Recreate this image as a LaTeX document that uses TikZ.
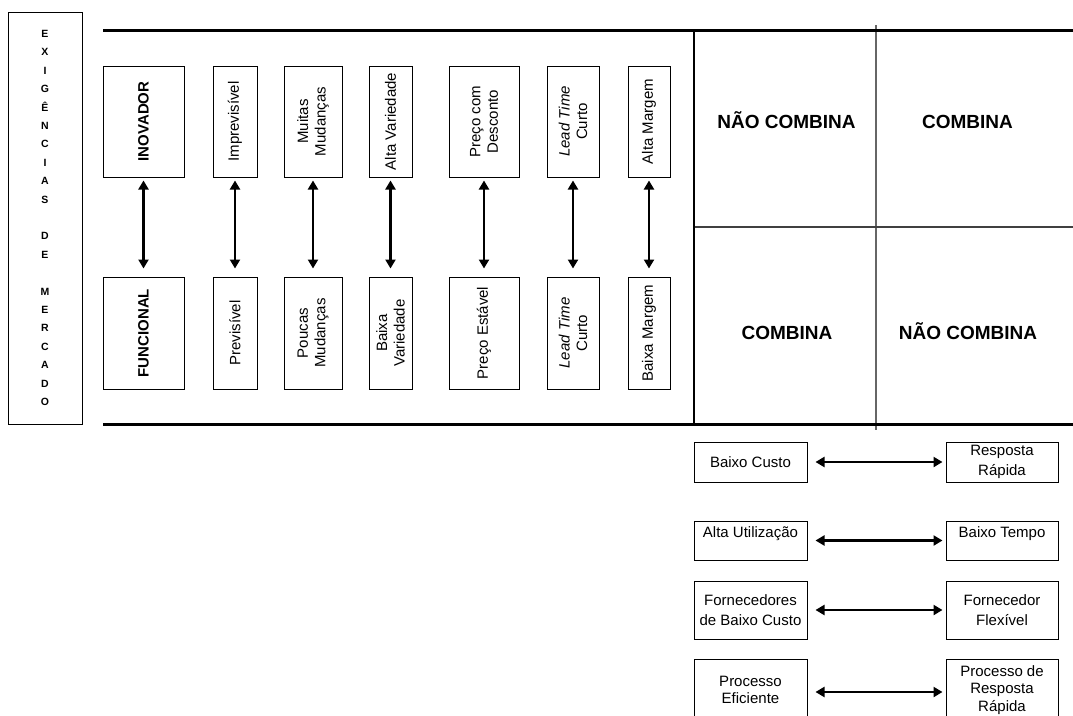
\documentclass[tikz,border=0pt]{standalone}
\usepackage{fontspec}
\setmainfont{Liberation Sans}
\usetikzlibrary{arrows.meta}
\begin{document}
\begin{tikzpicture}[x=1pt,y=-1pt,
  box/.style={draw, line width=1pt, inner sep=0pt, align=center,
    font=\fontsize{15}{17.5}\selectfont},
  vbox/.style={box, rotate=90},
  bold/.style={font=\fontsize{15}{17.5}\selectfont\bfseries},
  twoway/.style={{Triangle[length=9pt,width=10pt]}-{Triangle[length=9pt,width=10pt]},
    line width=2.5pt},
  quad/.style={font=\fontsize{19}{22}\selectfont\bfseries, inner sep=0pt,
    text height=13.6pt, text depth=0pt},
  tableline/.style={line width=3pt},
  gridline/.style={line width=1.4pt, draw=black!60},
]
\useasboundingbox (0,0) rectangle (1073,715);
\clip (0,0) rectangle (1073,715);

% side caption
\node[draw, line width=1pt, minimum width=74pt, minimum height=412pt, inner sep=0pt,
  align=center, font=\fontsize{10.5}{18.4}\selectfont\bfseries] (exig) at (45,218)
  {E\\X\\I\\G\\Ê\\N\\C\\I\\A\\S\\\mbox{}\\D\\E\\\mbox{}\\M\\E\\R\\C\\A\\D\\O};

% table frame
\coordinate (tl) at (103,30);
\coordinate (tr) at (1073,30);
\coordinate (bl) at (103,424);
\coordinate (br) at (1073,424);
\coordinate (mt) at (694,30);
\coordinate (mb) at (694,424);
\coordinate (ct) at (876,25);
\coordinate (cb) at (876,430);
\coordinate (ml) at (694,227);
\coordinate (mr) at (1073,227);
\draw[gridline] (ct) -- (cb);
\draw[gridline, draw=black!75] (ml) -- (mr);
\draw[tableline] (tl) -- (tr);
\draw[tableline] (bl) -- (br);
\draw[line width=2.5pt] (mt) -- (mb);

% upper row of characteristics
\node[vbox, bold, minimum width=111pt, minimum height=81pt] (inov) at (143.5,121.5) {INOVADOR};
\node[vbox, minimum width=111pt, minimum height=44pt] (impr) at (235,121.5) {Imprevisível};
\node[vbox, minimum width=111pt, minimum height=58pt] (muit) at (313,121.5) {Muitas\\Mudanças};
\node[vbox, minimum width=111pt, minimum height=43pt] (altv) at (390.5,121.5) {Alta Variedade};
\node[vbox, minimum width=111pt, minimum height=70pt] (pdes) at (484,121.5) {Preço com\\Desconto};
\node[vbox, minimum width=111pt, minimum height=52pt] (ltup) at (573,121.5) {\textit{Lead Time}\\Curto};
\node[vbox, minimum width=111pt, minimum height=42pt] (altm) at (649,121.5) {Alta Margem};

% lower row of characteristics
\node[vbox, bold, minimum width=112pt, minimum height=81pt] (func) at (143.5,333) {FUNCIONAL};
\node[vbox, minimum width=112pt, minimum height=44pt] (prev) at (235,333) {Previsível};
\node[vbox, minimum width=112pt, minimum height=58pt] (pouc) at (313,333) {Poucas\\Mudanças};
\node[vbox, minimum width=112pt, minimum height=43pt] (baiv) at (390.5,333) {Baixa\\Variedade};
\node[vbox, minimum width=112pt, minimum height=70pt] (pest) at (484,333) {Preço Estável};
\node[vbox, minimum width=112pt, minimum height=52pt] (ltdn) at (573,333) {\textit{Lead Time}\\Curto};
\node[vbox, minimum width=112pt, minimum height=42pt] (baim) at (649,333) {Baixa Margem};

% vertical two-way arrows (rotated nodes: west = bottom, east = top)
\foreach \a/\b in {inov/func, impr/prev, muit/pouc, altv/baiv, pdes/pest, ltup/ltdn, altm/baim}
  \draw[twoway, shorten <=3pt, shorten >=8pt] (\a.west) -- (\b.east);

% quadrant labels
\node[quad] (q11) at (786.5,122) {NÃO COMBINA};
\node[quad] (q12) at (967.5,122) {COMBINA};
\node[quad] (q21) at (787,333) {COMBINA};
\node[quad] (q22) at (968,333) {NÃO COMBINA};

% supply chain pairs
\node[box, minimum width=113pt, minimum height=40pt] (bc) at (750.5,462) {Baixo Custo};
\node[box, minimum width=112pt, minimum height=40pt, font=\fontsize{15}{19.5}\selectfont] (rr) at (1002,462) {Resposta\\Rápida};
\node[box, minimum width=113pt, text height=16pt, text depth=23pt] (au) at (750.5,540.5) {Alta Utilização};
\node[box, minimum width=112pt, text height=16pt, text depth=23pt] (bt) at (1002,540.5) {Baixo Tempo};
\node[box, minimum width=113pt, minimum height=58pt, font=\fontsize{15}{19.5}\selectfont] (fbc) at (750.5,610) {Fornecedores\\de Baixo Custo};
\node[box, minimum width=112pt, minimum height=58pt, font=\fontsize{15}{19.5}\selectfont] (ff) at (1002,610) {Fornecedor\\Flexível};
\node[box, minimum width=113pt, minimum height=62pt] (pe) at (750.5,690) {Processo\\Eficiente};
\node[box, minimum width=112pt, minimum height=62pt] (prr) at (1002,690) {Processo de\\Resposta\\Rápida};

\foreach \a/\b in {bc/rr, au/bt, fbc/ff}
  \draw[twoway, shorten <=8pt, shorten >=3pt] (\a.east) -- (\b.west);
\draw[twoway, shorten <=8pt, shorten >=3pt] ([yshift=-2pt]pe.east) -- ([yshift=-2pt]prr.west);
\end{tikzpicture}
\end{document}
